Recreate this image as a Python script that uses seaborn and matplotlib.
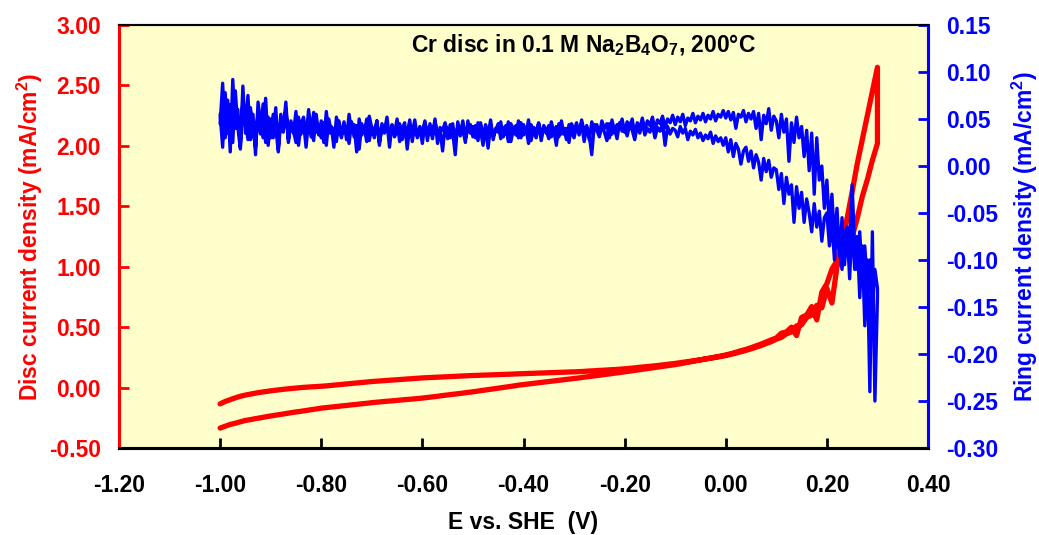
import numpy as np
import pandas as pd
import matplotlib
matplotlib.use("Agg")
import matplotlib.pyplot as plt
import seaborn as sns

# Potential grids of the sweep (V vs. SHE), -1.00 ... 0.30
potential_disc = np.round(np.arange(-1.00, 0.3001, 0.01), 3)    # 10 mV steps
potential_ring = np.round(np.arange(-1.00, 0.3001, 0.005), 3)   # 5 mV steps

# Disc current density (mA/cm2), anodic sweep (ascending potential)
disc_fwd = [
    -0.335, -0.320, -0.305, -0.295, -0.283, -0.272, -0.265, -0.257, -0.250, -0.242,
    -0.235, -0.228, -0.222, -0.215, -0.208, -0.202, -0.196, -0.190, -0.183, -0.177,
    -0.170, -0.166, -0.161, -0.157, -0.152, -0.148, -0.143, -0.139, -0.134, -0.130,
    -0.125, -0.121, -0.117, -0.113, -0.110, -0.106, -0.102, -0.098, -0.095, -0.091,
    -0.087, -0.082, -0.077, -0.072, -0.066, -0.061, -0.056, -0.051, -0.046, -0.040,
    -0.035, -0.029, -0.023, -0.017, -0.011, -0.005, 0.001, 0.007, 0.013, 0.020,
    0.025, 0.030, 0.035, 0.040, 0.045, 0.050, 0.055, 0.060, 0.065, 0.070,
    0.075, 0.080, 0.086, 0.091, 0.097, 0.102, 0.108, 0.113, 0.119, 0.124,
    0.130, 0.136, 0.142, 0.148, 0.154, 0.160, 0.166, 0.172, 0.178, 0.184,
    0.190, 0.197, 0.205, 0.213, 0.221, 0.229, 0.237, 0.245, 0.253, 0.261,
    0.270, 0.280, 0.292, 0.305, 0.316, 0.330, 0.345, 0.360, 0.378, 0.395,
    0.410, 0.450, 0.460, 0.500, 0.430, 0.580, 0.600, 0.670, 0.560, 0.790,
    0.860, 0.980, 1.050, 1.200, 1.400, 1.620, 1.850, 2.050, 2.250, 2.450,
    2.650,
]

# Disc current density (mA/cm2), cathodic return sweep (listed by ascending potential)
disc_rev = [
    -0.135, -0.115, -0.100, -0.085, -0.072, -0.062, -0.054, -0.046, -0.039, -0.033,
    -0.027, -0.022, -0.017, -0.012, -0.008, -0.004, 0.000, 0.003, 0.006, 0.008,
    0.011, 0.014, 0.018, 0.022, 0.026, 0.030, 0.034, 0.038, 0.042, 0.046,
    0.050, 0.053, 0.056, 0.059, 0.062, 0.065, 0.068, 0.071, 0.074, 0.077,
    0.080, 0.082, 0.084, 0.086, 0.088, 0.090, 0.092, 0.094, 0.096, 0.098,
    0.100, 0.101, 0.103, 0.104, 0.106, 0.107, 0.109, 0.110, 0.112, 0.114,
    0.115, 0.117, 0.118, 0.120, 0.121, 0.123, 0.124, 0.126, 0.127, 0.129,
    0.130, 0.132, 0.134, 0.137, 0.139, 0.142, 0.144, 0.147, 0.149, 0.152,
    0.155, 0.159, 0.163, 0.168, 0.172, 0.176, 0.180, 0.185, 0.190, 0.195,
    0.200, 0.206, 0.212, 0.218, 0.224, 0.230, 0.237, 0.243, 0.250, 0.257,
    0.265, 0.275, 0.285, 0.296, 0.308, 0.320, 0.334, 0.348, 0.364, 0.380,
    0.400, 0.415, 0.445, 0.460, 0.510, 0.520, 0.580, 0.600, 0.680, 0.660,
    0.820, 0.700, 1.000, 1.080, 1.150, 1.250, 1.400, 1.580, 1.720, 1.880,
    2.020,
]

# Ring current density (mA/cm2), anodic sweep (ascending potential, 5 mV steps)
ring_fwd = [
    0.045, 0.088, 0.030, 0.070, 0.015, 0.092, 0.040, 0.060, 0.020, 0.085,
    0.035, 0.075, 0.028, 0.055, 0.012, 0.068, 0.045, 0.030, 0.072, 0.022,
    0.050, 0.030, 0.062, 0.018, 0.055, 0.040, 0.068, 0.025, 0.048, 0.035,
    0.058, 0.022, 0.045, 0.052, 0.030, 0.060, 0.038, 0.027, 0.055, 0.033,
    0.048, 0.025, 0.058, 0.035, 0.042, 0.020, 0.052, 0.038, 0.030, 0.047,
    0.028, 0.055, 0.036, 0.044, 0.015, 0.050, 0.033, 0.041, 0.026, 0.053,
    0.040, 0.030, 0.048, 0.022, 0.045, 0.037, 0.052, 0.028, 0.043, 0.035,
    0.050, 0.026, 0.040, 0.046, 0.018, 0.044, 0.035, 0.049, 0.030, 0.042,
    0.036, 0.048, 0.027, 0.045, 0.033, 0.050, 0.024, 0.041, 0.038, 0.046,
    0.029, 0.044, 0.036, 0.012, 0.047, 0.032, 0.040, 0.025, 0.048, 0.035,
    0.042, 0.030, 0.046, 0.038, 0.022, 0.044, 0.034, 0.049, 0.028, 0.040,
    0.036, 0.047, 0.031, 0.043, 0.026, 0.045, 0.039, 0.033, 0.048, 0.030,
    0.044, 0.035, 0.049, 0.027, 0.041, 0.037, 0.046, 0.032, 0.043, 0.038,
    0.029, 0.047, 0.036, 0.042, 0.031, 0.048, 0.034, 0.040, 0.025, 0.045,
    0.038, 0.046, 0.033, 0.049, 0.036, 0.043, 0.028, 0.047, 0.039, 0.044,
    0.034, 0.048, 0.040, 0.045, 0.030, 0.049, 0.037, 0.044, 0.041, 0.050,
    0.036, 0.047, 0.042, 0.050, 0.033, 0.046, 0.040, 0.051, 0.038, 0.048,
    0.043, 0.052, 0.039, 0.049, 0.045, 0.053, 0.041, 0.050, 0.046, 0.054,
    0.044, 0.052, 0.047, 0.055, 0.043, 0.051, 0.048, 0.056, 0.046, 0.053,
    0.049, 0.056, 0.047, 0.054, 0.050, 0.058, 0.048, 0.055, 0.052, 0.059,
    0.051, 0.058, 0.049, 0.057, 0.040, 0.055, 0.052, 0.059, 0.047, 0.056,
    0.050, 0.058, 0.040, 0.056, 0.028, 0.054, 0.045, 0.061, 0.038, 0.053,
    0.048, 0.030, 0.055, 0.036, 0.050, 0.005, 0.046, 0.025, 0.052, 0.030,
    0.042, 0.010, 0.038, -0.005, 0.035, -0.030, 0.030, -0.015, 0.000, -0.045,
    -0.015, -0.065, -0.030, -0.080, -0.045, -0.095, -0.055, -0.105, -0.065, -0.120,
    -0.060, -0.110, -0.075, -0.140, -0.085, -0.170, -0.100, -0.240, -0.070, -0.250,
    -0.140,
]

# Ring current density (mA/cm2), cathodic return sweep (listed by ascending potential)
ring_rev = [
    0.055, 0.020, 0.078, 0.035, 0.065, 0.025, 0.080, 0.042, 0.018, 0.070,
    0.050, 0.028, 0.062, 0.040, 0.020, 0.058, 0.034, 0.066, 0.025, 0.052,
    0.030, 0.055, 0.042, 0.015, 0.048, 0.036, 0.060, 0.028, 0.045, 0.038,
    0.025, 0.052, 0.034, 0.046, 0.020, 0.049, 0.031, 0.057, 0.036, 0.043,
    0.030, 0.046, 0.022, 0.050, 0.035, 0.040, 0.026, 0.048, 0.033, 0.044,
    0.038, 0.024, 0.047, 0.031, 0.043, 0.018, 0.045, 0.036, 0.050, 0.027,
    0.042, 0.033, 0.048, 0.025, 0.040, 0.035, 0.046, 0.020, 0.044, 0.031,
    0.037, 0.045, 0.028, 0.041, 0.034, 0.049, 0.026, 0.043, 0.032, 0.040,
    0.024, 0.046, 0.035, 0.041, 0.029, 0.047, 0.033, 0.038, 0.016, 0.044,
    0.037, 0.030, 0.045, 0.026, 0.042, 0.034, 0.048, 0.029, 0.039, 0.044,
    0.031, 0.043, 0.027, 0.046, 0.035, 0.040, 0.019, 0.044, 0.032, 0.038,
    0.045, 0.029, 0.041, 0.034, 0.047, 0.026, 0.039, 0.043, 0.030, 0.046,
    0.033, 0.040, 0.024, 0.044, 0.036, 0.030, 0.045, 0.027, 0.041, 0.035,
    0.043, 0.031, 0.038, 0.022, 0.045, 0.034, 0.040, 0.028, 0.044, 0.036,
    0.030, 0.042, 0.035, 0.046, 0.026, 0.041, 0.033, 0.012, 0.044, 0.038,
    0.031, 0.043, 0.036, 0.027, 0.045, 0.034, 0.040, 0.029, 0.046, 0.037,
    0.041, 0.032, 0.044, 0.038, 0.028, 0.043, 0.035, 0.047, 0.033, 0.040,
    0.036, 0.044, 0.030, 0.041, 0.037, 0.045, 0.022, 0.042, 0.034, 0.040,
    0.038, 0.031, 0.042, 0.035, 0.040, 0.028, 0.037, 0.033, 0.039, 0.030,
    0.035, 0.027, 0.033, 0.029, 0.036, 0.024, 0.032, 0.026, 0.030, 0.022,
    0.030, 0.015, 0.028, 0.010, 0.024, 0.018, 0.002, 0.016, 0.020, 0.005,
    0.016, -0.002, 0.012, 0.004, -0.015, 0.008, -0.006, 0.006, -0.012, -0.002,
    -0.004, -0.025, -0.008, -0.040, -0.012, -0.030, -0.020, -0.060, -0.022, -0.045,
    -0.028, -0.060, -0.035, -0.050, -0.070, -0.040, -0.065, -0.048, -0.080, -0.055,
    -0.050, -0.085, -0.060, -0.100, -0.065, -0.090, -0.110, -0.070, -0.095, -0.080,
    -0.020, -0.090, -0.110, -0.070, -0.120, -0.085, -0.130, -0.100, -0.150, -0.110,
    -0.130,
]

left_ticks = [-0.50, 0.00, 0.50, 1.00, 1.50, 2.00, 2.50, 3.00]
right_ticks = [-0.30, -0.25, -0.20, -0.15, -0.10, -0.05, 0.00, 0.05, 0.10, 0.15]
x_ticks = [-1.20, -1.00, -0.80, -0.60, -0.40, -0.20, 0.00, 0.20, 0.40]

RED = "#FF0000"
BLUE = "#0000FF"
FS = 16.5

sns.set_theme(style="white")
plt.rcParams["font.family"] = ["Liberation Sans", "DejaVu Sans"]
plt.rcParams["font.weight"] = "bold"
plt.rcParams["mathtext.fontset"] = "custom"
plt.rcParams["mathtext.rm"] = "Liberation Sans:bold"
plt.rcParams["mathtext.bf"] = "Liberation Sans:bold"
plt.rcParams["mathtext.it"] = "Liberation Sans:bold"
plt.rcParams["mathtext.default"] = "bf"


def loop_frame(potential, fwd, rev):
    """One continuous cyclic sweep: up to the vertex, then back down."""
    e = np.concatenate([potential, potential[::-1]])
    j = np.concatenate([np.asarray(fwd), np.asarray(rev)[::-1]])
    return pd.DataFrame({"E": e, "j": j})


disc = loop_frame(potential_disc, disc_fwd, disc_rev)
ring = loop_frame(potential_ring, ring_fwd, ring_rev)

fig = plt.figure(figsize=(10.39, 5.35), dpi=100)
ax = fig.add_axes([119 / 1039, 87 / 535, 809 / 1039, 423 / 535])
ax.set_facecolor("#FFFFCC")
ax2 = ax.twinx()

sns.lineplot(data=disc, x="E", y="j", sort=False, estimator=None,
             color=RED, linewidth=3.8, ax=ax)
sns.lineplot(data=ring, x="E", y="j", sort=False, estimator=None,
             color=BLUE, linewidth=2.4, ax=ax2)

ax.set_xlim(-1.20, 0.40)
ax.set_ylim(-0.50, 3.00)
ax2.set_ylim(-0.30, 0.15)

ax.set_xticks(x_ticks)
ax.set_xticklabels([f"{v:.2f}" for v in x_ticks])
ax.set_yticks(left_ticks)
ax.set_yticklabels([f"{v:.2f}" for v in left_ticks])
ax2.set_yticks(right_ticks)
ax2.set_yticklabels([f"{v:.2f}" for v in right_ticks])

ax.tick_params(axis="x", direction="in", length=7, width=2, color="black",
               labelsize=FS, labelcolor="black", pad=19, bottom=True)
ax.tick_params(axis="y", direction="in", length=7, width=2, color=RED,
               labelsize=FS, labelcolor=RED, pad=13, left=True)
ax2.tick_params(axis="y", direction="in", length=7, width=2, color=BLUE,
                labelsize=FS, labelcolor=BLUE, pad=13, right=True)

for t in ax.get_xticklabels() + ax.get_yticklabels() + ax2.get_yticklabels():
    t.set_fontweight("bold")

for a in (ax, ax2):
    a.spines["top"].set_color("black")
    a.spines["top"].set_linewidth(1.5)
    a.spines["bottom"].set_color("black")
    a.spines["bottom"].set_linewidth(2.2)
    a.spines["left"].set_color(RED)
    a.spines["left"].set_linewidth(2.2)
    a.spines["right"].set_color(BLUE)
    a.spines["right"].set_linewidth(2.2)

ax.set_xlabel("E vs. SHE  (V)", fontsize=FS, fontweight="bold", color="black", labelpad=10)
ax.set_ylabel("Disc current density (mA/cm$^2$)", fontsize=FS, fontweight="bold",
              color=RED, labelpad=3)
ax2.set_ylabel("Ring current density (mA/cm$^2$)", fontsize=FS, fontweight="bold",
               color=BLUE, labelpad=8)

ax.text(0.574, 0.953, "Cr disc in 0.1 M Na$_2$B$_4$O$_7$, 200°C",
        transform=ax.transAxes, ha="center", va="center",
        fontsize=FS, fontweight="bold", color="black")

fig.savefig("out.png", dpi=100, facecolor="white")
